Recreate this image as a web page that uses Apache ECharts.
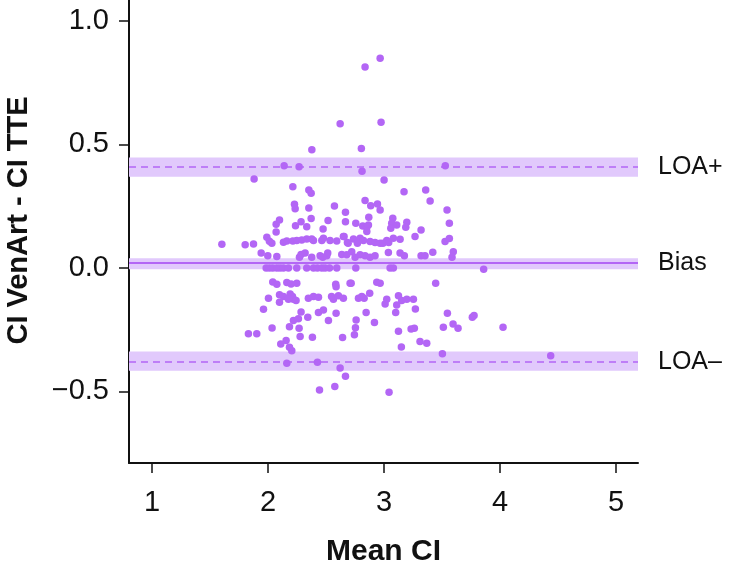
<!DOCTYPE html>
<html>
<head>
<meta charset="utf-8">
<script src="https://cdn.jsdelivr.net/npm/echarts@6/dist/echarts.min.js"></script>
<style>html,body{margin:0;padding:0;background:#fff}#c{width:738px;height:570px}</style>
</head>
<body>
<div id="c"></div>
<script>
// Mean CI (x) and CI VenArt - CI TTE (y)
var meanCI = [
2.966,2.836,2.621,2.974,2.377,2.804,2.138,2.267,2.810,3.528,1.879,3.000,
2.213,2.351,2.371,2.227,2.233,2.351,2.572,2.667,2.098,2.069,2.284,2.371,2.236,2.333,2.517,2.667,2.474,2.069,1.989,2.011,2.032,1.802,1.874,
2.132,2.161,2.213,2.247,2.290,2.333,2.376,2.391,2.463,2.477,2.534,2.592,2.649,2.684,
1.940,1.997,2.075,2.270,2.284,2.319,2.376,2.448,2.471,2.506,2.514,2.635,2.678,
3.172,3.359,3.397,2.836,2.885,2.943,2.966,2.868,3.543,2.756,2.816,2.851,2.865,2.851,3.075,3.066,3.109,3.058,3.196,3.187,3.319,3.563,3.267,
2.655,2.736,2.793,2.822,2.879,2.922,2.966,3.023,3.080,3.138,2.690,2.770,2.990,3.040,3.526,3.563,
2.721,2.750,2.793,2.836,2.879,2.922,3.037,3.138,3.175,3.319,3.353,3.420,3.597,3.586,
3.859,3.546,3.511,3.595,3.638,3.761,3.776,4.026,3.503,4.437,
1.983,2.011,2.040,2.075,2.103,2.132,2.175,2.247,2.333,2.391,2.425,2.463,2.491,2.529,2.592,
2.040,2.075,2.161,2.198,2.247,2.583,2.586,2.707,
2.098,2.132,2.190,2.210,2.218,2.241,2.175,2.098,2.003,2.347,2.391,2.434,2.547,2.563,2.606,2.649,
1.960,2.284,2.434,2.477,2.586,2.342,2.218,2.261,2.520,2.184,2.267,2.034,1.830,1.902,2.276,2.382,2.642,2.155,2.109,2.184,2.204,
2.756,3.052,3.080,2.716,2.937,2.966,3.445,2.779,2.808,2.828,2.876,3.023,3.009,3.124,3.152,3.196,3.253,3.109,3.270,3.100,2.845,2.759,2.917,2.753,2.744,3.124,3.233,3.261,3.310,3.368,3.149,
2.161,2.425,2.621,2.667,2.443,2.575,3.043,
1.601
];
var diffCI = [
0.849,0.814,0.584,0.590,0.479,0.484,0.414,0.410,0.391,0.414,0.360,0.356,
0.329,0.316,0.302,0.258,0.240,0.243,0.251,0.225,0.194,0.177,0.187,0.200,0.171,0.167,0.192,0.187,0.158,0.145,0.124,0.108,0.100,0.094,0.097,
0.104,0.109,0.109,0.111,0.113,0.117,0.117,0.111,0.111,0.120,0.111,0.109,0.127,0.103,
0.060,0.049,0.046,0.043,0.054,0.060,0.043,0.049,0.043,0.049,0.060,0.054,0.053,
0.308,0.316,0.271,0.273,0.252,0.259,0.235,0.205,0.235,0.181,0.170,0.165,0.174,0.147,0.201,0.181,0.174,0.161,0.185,0.165,0.154,0.181,0.127,
0.127,0.117,0.120,0.111,0.107,0.103,0.100,0.111,0.120,0.116,0.100,0.100,0.100,0.103,0.107,0.119,
0.066,0.043,0.053,0.049,0.043,0.049,0.062,0.060,0.049,0.049,0.049,0.063,0.066,0.043,
-0.005,-0.184,-0.240,-0.227,-0.244,-0.200,-0.193,-0.240,-0.348,-0.356,
0.000,0.000,0.000,0.000,0.000,0.000,0.000,0.000,0.000,0.000,0.000,0.000,0.000,0.000,0.000,
-0.057,-0.066,-0.059,-0.065,-0.062,-0.066,-0.076,-0.062,
-0.109,-0.116,-0.106,-0.116,-0.127,-0.132,-0.127,-0.139,-0.123,-0.123,-0.116,-0.119,-0.116,-0.127,-0.113,-0.123,
-0.167,-0.179,-0.181,-0.170,-0.184,-0.200,-0.213,-0.206,-0.213,-0.238,-0.244,-0.243,-0.267,-0.267,-0.278,-0.281,-0.282,-0.294,-0.308,-0.321,-0.335,
0.000,0.000,0.000,-0.062,-0.058,-0.062,-0.062,-0.123,-0.116,-0.123,-0.103,-0.127,-0.146,-0.113,-0.132,-0.127,-0.127,-0.150,-0.166,-0.181,-0.181,-0.211,-0.221,-0.242,-0.271,-0.256,-0.247,-0.244,-0.298,-0.305,-0.320,
-0.386,-0.382,-0.405,-0.439,-0.494,-0.480,-0.503,
0.096
];
// Agreement statistics
var biasValue = 0.016, biasCI = [-0.005, 0.039];
var loaUpper = 0.410, loaUpperCI = [0.369, 0.447];
var loaLower = -0.378, loaLowerCI = [-0.416, -0.338];
var refLabels = ['LOA+', 'Bias', 'LOA\u2013'];
var xTicks = [1, 2, 3, 4, 5];
var yTicks = [-0.5, 0, 0.5, 1.0];
var xRange = [0.8, 5.19];
var yRange = [-0.79, 1.085];

var pts = meanCI.map(function (x, i) { return [x, diffCI[i]]; });
var purple = '#b366f5', band = '#e1c9fc';
var font = 'Arial, "Liberation Sans", Helvetica, sans-serif';

var chart = echarts.init(document.getElementById('c'), null, {renderer: 'canvas'});
chart.setOption({
  animation: false,
  backgroundColor: '#fff',
  grid: {left: 129, right: 100, top: 0, bottom: 107, containLabel: false, outerBoundsMode: 'none'},
  xAxis: {
    type: 'value', min: xRange[0], max: xRange[1],
    name: 'Mean CI', nameLocation: 'middle', nameGap: 74,
    nameTextStyle: {fontFamily: font, fontSize: 30, fontWeight: 'bold', color: '#111'},
    axisLine: {onZero: false, lineStyle: {color: '#111', width: 2}},
    axisTick: {show: true, length: 10, customValues: xTicks, lineStyle: {color: '#111', width: 1.5}},
    axisLabel: {customValues: xTicks, fontFamily: font, fontSize: 29, color: '#111', margin: 25},
    splitLine: {show: false}
  },
  yAxis: {
    type: 'value', min: yRange[0], max: yRange[1],
    name: 'CI VenArt - CI TTE', nameLocation: 'middle', nameGap: 96,
    nameTextStyle: {fontFamily: font, fontSize: 29, fontWeight: 'bold', color: '#111', padding: [0, 0, 0, 22]},
    axisLine: {onZero: false, lineStyle: {color: '#111', width: 2}},
    axisTick: {show: true, length: 10, customValues: yTicks, lineStyle: {color: '#111', width: 1.5}},
    axisLabel: {customValues: yTicks, fontFamily: font, fontSize: 29, color: '#111', margin: 20,
      formatter: function (v) { var s = Math.abs(v).toFixed(1); return v < 0 ? '\u2212' + s : s; }},
    splitLine: {show: false}
  },
  series: [
    {
      type: 'line', data: [], z: 1, silent: true,
      markArea: {
        silent: true,
        itemStyle: {color: band, opacity: 1},
        data: [
          [{yAxis: loaUpperCI[0]}, {yAxis: loaUpperCI[1]}],
          [{yAxis: biasCI[0]}, {yAxis: biasCI[1]}],
          [{yAxis: loaLowerCI[0]}, {yAxis: loaLowerCI[1]}]
        ]
      },
      markLine: {
        silent: true, symbol: 'none',
        label: {position: 'end', distance: 20, fontFamily: font, fontSize: 25, color: '#111'},
        data: [
          {yAxis: loaUpper, label: {formatter: refLabels[0]}, lineStyle: {type: [7, 5], color: purple, width: 1.5}},
          {yAxis: biasValue, label: {formatter: refLabels[1]}, lineStyle: {type: 'solid', color: purple, width: 2}},
          {yAxis: loaLower, label: {formatter: refLabels[2]}, lineStyle: {type: [7, 5], color: purple, width: 1.5}}
        ]
      }
    },
    {
      type: 'scatter', z: 3, data: pts, symbolSize: 7.5,
      itemStyle: {color: purple, opacity: 1}
    }
  ]
});
</script>
</body>
</html>
